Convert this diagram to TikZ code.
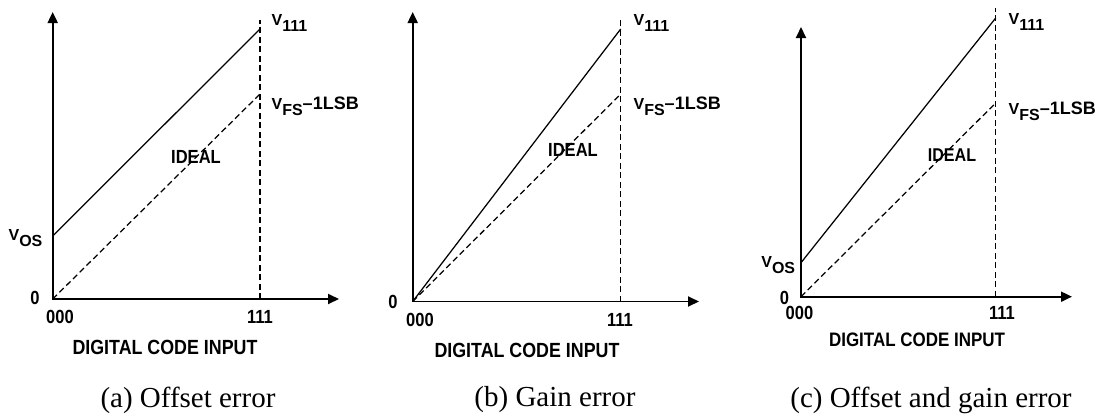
\documentclass[tikz,border=0pt]{standalone}
\usepackage{fontspec}
\setmainfont{Liberation Serif}
\newfontfamily\labfont{Liberation Sans Bold}
\newfontfamily\narfont{Liberation Sans Bold}[FakeStretch=0.87]
\usetikzlibrary{arrows.meta}

% V with a lowered index
\newcommand{\Vsub}[1]{V\raisebox{-6pt}{#1}}

\begin{document}
\begin{tikzpicture}[x=1pt, y=-1pt, >={Triangle[length=11pt,width=10pt]}, line width=1.25pt,
  lbl/.style={font=\narfont\fontsize{19}{21}\selectfont, inner sep=0pt},
  vlbl/.style={font=\labfont\fontsize{16}{18}\selectfont, inner sep=0pt, anchor=west},
  axtitle/.style={font=\narfont\fontsize{20.5}{22}\selectfont, inner sep=0pt},
  captext/.style={font=\fontsize{29}{32}\selectfont, inner sep=0pt},
  axis/.style={<->, line width=1.9pt},
  ideal/.style={dash pattern=on 6pt off 3.5pt, line width=1.25pt}]
  \useasboundingbox (0,0) rectangle (1096,418);

  % (a) offset error
  \coordinate (Oa) at (52.7,299);
  \coordinate (Ya) at (52.7,12);
  \coordinate (Xa) at (339,299);
  \coordinate (Ta) at (260,299);
  \coordinate (TaTop) at (260,20);
  \coordinate (OSa) at (52.7,236);
  \coordinate (Ea) at (260,29);
  \coordinate (Ia) at (260,94);
  \draw[axis] (Ya) -- (Oa) -- (Xa);
  \draw[ideal] (Ta) -- (TaTop);
  \draw (OSa) -- (Ea);
  \draw[ideal] (Oa) -- (Ia);
  \node[vlbl] (v111a) at (271,23) {\Vsub{111}};
  \node[vlbl] (vfsa) at (271,106) {\Vsub{FS}{\fontsize{18}{19}\selectfont\textendash1LSB}};
  \node[lbl] (ideala) at (196,157) {IDEAL};
  \node[vlbl] (vosa) at (8,238.5) {\Vsub{OS}};
  \node[lbl] (zeroa) at (35,298) {0};
  \node[lbl] (starta) at (60,317) {000};
  \node[lbl] (enda) at (260,317) {111};
  \node[axtitle] (codea) at (165,347) {DIGITAL CODE INPUT};
  \node[captext] (capa) at (188,400) {(a) Offset error};

  % (b) gain error
  \coordinate (Ob) at (412.7,301.5);
  \coordinate (Yb) at (412.7,12);
  \coordinate (Xb) at (699,301.5);
  \coordinate (Tb) at (620.7,301.5);
  \coordinate (TbTop) at (620.7,20);
  \coordinate (Eb) at (620.7,29);
  \coordinate (Ib) at (620.7,94);
  \draw[axis] (Yb) -- (Ob) -- (Xb);
  \draw[ideal] (Tb) -- (TbTop);
  \draw (Ob) -- (Eb);
  \draw[ideal] (Ob) -- (Ib);
  \node[vlbl] (v111b) at (633,23) {\Vsub{111}};
  \node[vlbl] (vfsb) at (633,106) {\Vsub{FS}{\fontsize{18}{19}\selectfont\textendash1LSB}};
  \node[lbl] (idealb) at (573,150) {IDEAL};
  \node[lbl] (zerob) at (393,302) {0};
  \node[lbl] (startb) at (420,320) {000};
  \node[lbl] (endb) at (620,320) {111};
  \node[axtitle] (codeb) at (527,350) {DIGITAL CODE INPUT};
  \node[captext] (capb) at (555,400) {(b) Gain error};

  % (c) offset and gain error
  \coordinate (Oc) at (801,296.7);
  \coordinate (Yc) at (801,27);
  \coordinate (Xc) at (1072,296.7);
  \coordinate (Tc) at (995.7,296.7);
  \coordinate (TcTop) at (995.7,8);
  \coordinate (OSc) at (801,262.7);
  \coordinate (Ec) at (995.7,18);
  \coordinate (Ic) at (995.7,103);
  \draw[axis] (Yc) -- (Oc) -- (Xc);
  \draw[ideal] (Tc) -- (TcTop);
  \draw (OSc) -- (Ec);
  \draw[ideal] (Oc) -- (Ic);
  \node[vlbl] (v111c) at (1008,22) {\Vsub{111}};
  \node[vlbl] (vfsc) at (1008,111) {\Vsub{FS}{\fontsize{18}{19}\selectfont\textendash1LSB}};
  \node[lbl, font=\narfont\fontsize{18.5}{20}\selectfont] (idealc) at (952,155) {IDEAL};
  \node[vlbl] (vosc) at (760.7,265) {\Vsub{OS}};
  \node[lbl] (zeroc) at (784.5,297.5) {0};
  \node[lbl] (startc) at (799.5,313.3) {000};
  \node[lbl] (endc) at (1002,313.3) {111};
  \node[axtitle, font=\narfont\fontsize{19.5}{21}\selectfont] (codec) at (917,340) {DIGITAL CODE INPUT};
  \node[captext] (capc) at (931,400) {(c) Offset and gain error};
\end{tikzpicture}
\end{document}
